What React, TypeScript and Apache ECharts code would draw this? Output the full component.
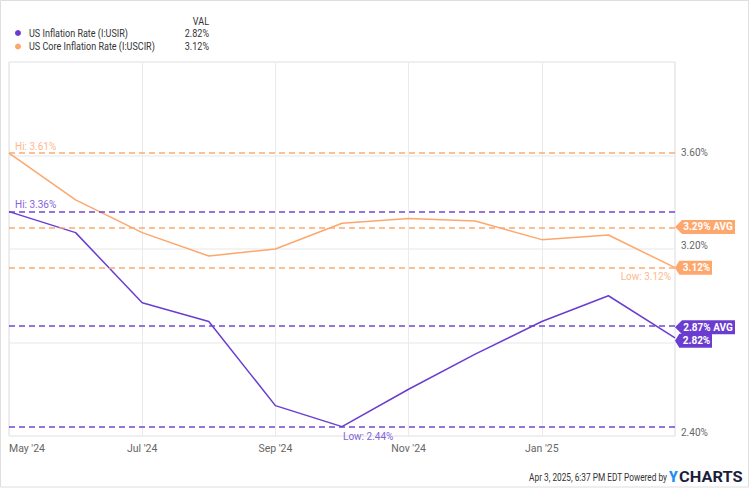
import React, { useEffect, useRef } from "react";
import * as echarts from "echarts";

// ---- data ----
const months = ["May '24", "Jun '24", "Jul '24", "Aug '24", "Sep '24", "Oct '24", "Nov '24", "Dec '24", "Jan '25", "Feb '25", "Mar '25"];
const usInflation = [3.36, 3.27, 2.97, 2.89, 2.53, 2.44, 2.6, 2.75, 2.89, 3.0, 2.82];
const usCoreInflation = [3.61, 3.41, 3.27, 3.17, 3.2, 3.31, 3.33, 3.32, 3.24, 3.26, 3.12];
const seriesNames = ["US Inflation Rate (I:USIR)", "US Core Inflation Rate (I:USCIR)"];
const yMin = 2.4;
const yMax = 4.0;
const yStep = 0.4;
const hiddenYTicks = [2.8, 4.0];
const legendHeader = "VAL";
const footerText = "Apr 3, 2025, 6:37 PM EDT Powered by";

// ---- styles ----
const PURPLE = "#6a3dd0";
const ORANGE = "#fda76c";
const FONT = "Roboto, sans-serif";

const mean = (a: number[]) => a.reduce((s, v) => s + v, 0) / a.length;
const pct = (v: number) => v.toFixed(2) + "%";

const TAG_PATH = "path://M0,7L7,0L60,0L60,14L7,14Z";

function buildSeries(
  name: string,
  data: number[],
  color: string,
  labelColor: string,
  hiPos: number[],
  lowPos: number[],
  lowAlign: string,
  lastDy: number
) {
  const avg = mean(data);
  const last = data[data.length - 1];
  const lastCat = months[months.length - 1];
  const tag = (value: number, text: string, width: number, dy: number) => ({
    coord: [lastCat, value],
    symbol: TAG_PATH,
    symbolSize: [width, 14],
    symbolOffset: [width / 2, dy],
    itemStyle: { color },
    label: {
      show: true,
      position: "inside",
      offset: [3, 0],
      formatter: text,
      color: "#fff",
      fontSize: 10,
      fontWeight: "bold",
      fontFamily: FONT,
    },
  });
  const marker = (type: string, prefix: string, pos: number[], align: string) => ({
    type,
    symbol: "circle",
    symbolSize: 2,
    itemStyle: { color: "rgba(0,0,0,0)" },
    label: {
      show: true,
      position: pos,
      align,
      verticalAlign: "middle",
      color: labelColor,
      fontSize: 10,
      fontFamily: FONT,
      formatter: (p: any) => prefix + pct(p.value),
    },
  });
  return {
    name,
    type: "line",
    data,
    clip: false,
    showSymbol: false,
    symbol: "none",
    lineStyle: { color, width: 1.5 },
    itemStyle: { color },
    markLine: {
      silent: true,
      symbol: ["none", "none"],
      label: { show: false },
      lineStyle: { color, type: [6, 4], width: 1.5, opacity: 0.95 },
      data: [{ type: "max" }, { type: "average" }, { type: "min" }],
    },
    markPoint: {
      silent: true,
      data: [
        marker("max", "Hi: ", hiPos, "left"),
        marker("min", "Low: ", lowPos, lowAlign),
        tag(avg, pct(avg) + " AVG", 60, 0),
        tag(last, pct(last), 37, lastDy),
      ],
    },
  };
}

function legendGraphics() {
  const rows = [
    { name: seriesNames[0], color: PURPLE, value: usInflation[usInflation.length - 1], y: 33 },
    { name: seriesNames[1], color: ORANGE, value: usCoreInflation[usCoreInflation.length - 1], y: 46.5 },
  ];
  const txt = (text: string, x: number, y: number, align: string) => ({
    type: "text",
    x,
    y,
    scaleX: 0.86,
    style: { text, fill: "#333", font: `10.5px ${FONT}`, align, verticalAlign: "middle" },
  });
  const els: any[] = [txt(legendHeader, 209, 21, "right")];
  rows.forEach((r) => {
    els.push({ type: "circle", shape: { cx: 18, cy: r.y, r: 3 }, style: { fill: r.color } });
    els.push(txt(r.name, 29, r.y, "left"));
    els.push(txt(pct(r.value), 209, r.y, "right"));
  });
  return els;
}

export default function App() {
  const ref = useRef<HTMLDivElement>(null);
  useEffect(() => {
    if (!ref.current) return;
    const chart = echarts.init(ref.current, undefined, { renderer: "svg" });
    chart.setOption({
      animation: false,
      backgroundColor: "#fff",
      grid: {
        left: 9,
        right: 75,
        top: 62,
        bottom: 52,
        show: true,
        borderColor: "#dddddd",
        borderWidth: 1,
        backgroundColor: "transparent",
      },
      xAxis: {
        type: "category",
        data: months,
        boundaryGap: false,
        axisLine: { show: false },
        axisTick: { show: false },
        axisLabel: {
          interval: (i: number) => i % 2 === 0 && i < months.length - 1,
          alignMinLabel: "left",
          color: "#666",
          fontSize: 10.5,
          fontFamily: FONT,
          margin: 7,
        },
        splitLine: {
          show: true,
          interval: (i: number) => i % 2 === 0,
          lineStyle: { color: "#ebebeb", width: 1 },
        },
      },
      yAxis: {
        type: "value",
        position: "right",
        min: yMin,
        max: yMax,
        interval: yStep,
        axisLine: { show: false },
        axisTick: { show: false },
        axisLabel: {
          color: "#666",
          fontSize: 10,
          fontFamily: FONT,
          margin: 6,
          verticalAlign: "bottom",
          lineHeight: 7,
          formatter: (v: number) => (hiddenYTicks.some((h) => Math.abs(h - v) < 1e-6) ? "" : pct(v)),
        },
        splitLine: { show: true, lineStyle: { color: "#efefef", width: 1.5 } },
      },
      series: [
        buildSeries(seriesNames[0], usInflation, PURPLE, "#8563dc", [7, -6], [2, 11], "left", 3),
        buildSeries(seriesNames[1], usCoreInflation, ORANGE, "#fdb98c", [7, -6], [-3, 10], "right", 0),
      ],
      graphic: [
        {
          type: "rect",
          shape: { x: 0.5, y: 0.5, width: 748, height: 486.5 },
          style: { fill: "none", stroke: "#dedede", lineWidth: 1 },
          silent: true,
        },
        ...legendGraphics(),
        {
          type: "text",
          x: 667,
          y: 477,
          scaleX: 0.83,
          style: { text: footerText, fill: "#333", font: `10px ${FONT}`, align: "right", verticalAlign: "middle" },
        },
        {
          type: "text",
          x: 669,
          y: 477,
          style: { text: "Y", fill: "#1e8ff5", font: `900 14px Roboto`, align: "left", verticalAlign: "middle" },
        },
        {
          type: "text",
          x: 679,
          y: 477,
          scaleX: 1.17,
          style: { text: "CHARTS", fill: "#1b1e3a", font: `bold 14px Roboto`, align: "left", verticalAlign: "middle" },
        },
      ],
    });
    return () => chart.dispose();
  }, []);
  return (
    <div
      ref={ref}
      style={{ position: "fixed", left: 0, top: 0, width: 750, height: 488, background: "#fff" }}
    />
  );
}
